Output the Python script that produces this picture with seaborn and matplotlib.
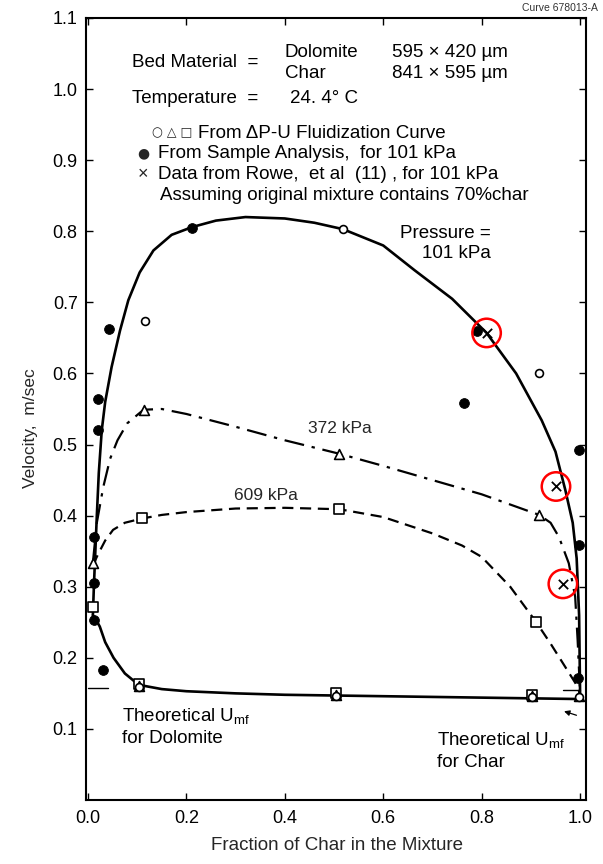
import matplotlib
matplotlib.use("Agg")
import matplotlib.pyplot as plt
import seaborn as sns
import pandas as pd

# ---------------- data ----------------
# 101 kPa curve, upper branch (solid)
up101_x = [0.010, 0.012, 0.015, 0.018, 0.022, 0.028, 0.035, 0.048, 0.065, 0.082, 0.105, 0.133, 0.17,
           0.212, 0.26, 0.32, 0.40, 0.46, 0.518, 0.60, 0.664, 0.74, 0.81, 0.87, 0.922, 0.95, 0.97,
           0.985, 0.993, 0.998, 1.0]
up101_y = [0.26, 0.30, 0.35, 0.40, 0.46, 0.52, 0.56, 0.609, 0.66, 0.703, 0.742, 0.773, 0.795,
           0.806, 0.815, 0.82, 0.818, 0.812, 0.803, 0.78, 0.745, 0.705, 0.657, 0.60, 0.534, 0.49, 0.436,
           0.39, 0.34, 0.26, 0.15]
# 101 kPa curve, lower branch (solid)
lo101_x = [0.010, 0.015, 0.024, 0.035, 0.052, 0.075, 0.103, 0.15, 0.2, 0.3, 0.4, 0.5, 0.7, 0.9, 1.0]
lo101_y = [0.26, 0.255, 0.244, 0.222, 0.2, 0.178, 0.162, 0.156, 0.153, 0.15, 0.148, 0.147, 0.145, 0.143, 0.142]
# 372 kPa curve (dash-dot)
p372_x = [0.010, 0.018, 0.031, 0.045, 0.06, 0.08, 0.113, 0.15, 0.2, 0.3, 0.4, 0.511, 0.6, 0.7, 0.8,
          0.917, 0.94, 0.957, 0.977, 0.99, 0.995, 1.0]
p372_y = [0.334, 0.39, 0.44, 0.48, 0.506, 0.53, 0.549, 0.55, 0.543, 0.525, 0.506, 0.487, 0.47, 0.45, 0.43,
          0.401, 0.39, 0.37, 0.333, 0.286, 0.225, 0.15]
# 609 kPa curve (dashed)
p609_x = [0.010, 0.02, 0.035, 0.051, 0.075, 0.11, 0.15, 0.2, 0.3, 0.4, 0.511, 0.6, 0.7, 0.76, 0.8,
          0.858, 0.91, 0.94, 0.97, 0.99, 1.0]
p609_y = [0.33, 0.345, 0.365, 0.38, 0.39, 0.396, 0.401, 0.405, 0.41, 0.411, 0.409, 0.398, 0.375, 0.358, 0.342,
          0.3, 0.251, 0.22, 0.187, 0.165, 0.15]

# From dP-U fluidization curve
circ_x = [0.116, 0.518, 0.917, 0.103, 0.504, 0.902, 0.998]
circ_y = [0.674, 0.803, 0.601, 0.159, 0.146, 0.145, 0.145]
tri_x = [0.010, 0.113, 0.511, 0.917, 0.103, 0.504, 0.902, 0.998]
tri_y = [0.334, 0.549, 0.487, 0.401, 0.161, 0.148, 0.146, 0.146]
sq_x = [0.011, 0.11, 0.511, 0.91, 0.103, 0.504, 0.902]
sq_y = [0.272, 0.396, 0.409, 0.251, 0.163, 0.150, 0.148]
# From sample analysis (101 kPa)
fill_x = [0.021, 0.021, 0.043, 0.212, 0.79, 0.765, 0.998, 0.998, 0.995, 0.031, 0.013, 0.013, 0.013]
fill_y = [0.52, 0.564, 0.663, 0.805, 0.66, 0.559, 0.493, 0.359, 0.171, 0.183, 0.37, 0.305, 0.253]
# Data from Rowe et al (101 kPa)
rowe_x = [0.81, 0.951, 0.965]
rowe_y = [0.657, 0.441, 0.304]

xticks = [0.0, 0.2, 0.4, 0.6, 0.8, 1.0]
xtick_labels = ["0.0", "0.2", "0.4", "0.6", "0.8", "1.0"]
yticks = [0.1, 0.2, 0.3, 0.4, 0.5, 0.6, 0.7, 0.8, 0.9, 1.0, 1.1]
ytick_labels = ["0.1", "0.2", "0.3", "0.4", "0.5", "0.6", "0.7", "0.8", "0.9", "1.0", "1.1"]

# ---------------- figure ----------------
sns.set_theme(style="ticks")
plt.rcParams["font.family"] = ["Liberation Sans", "DejaVu Sans"]
plt.rcParams["mathtext.fontset"] = "custom"
plt.rcParams["mathtext.rm"] = "Liberation Sans"
plt.rcParams["mathtext.it"] = "Liberation Sans"

fig = plt.figure(figsize=(6.03, 8.64), dpi=100)
ax = fig.add_axes([86 / 603, 1 - 800 / 864, 500 / 603, 782 / 864])
ax.set_facecolor("white")
fig.patch.set_facecolor("white")

def line(xs, ys, **kw):
    df = pd.DataFrame({"x": xs, "y": ys})
    sns.lineplot(data=df, x="x", y="y", sort=False, estimator=None, ax=ax, color="black", **kw)

line(up101_x, up101_y, linewidth=1.9)
line(lo101_x, lo101_y, linewidth=1.9)
line(p372_x, p372_y, linewidth=1.6, dashes=False, linestyle=(0, (9, 3.5, 1.5, 3.5)))
line(p609_x, p609_y, linewidth=1.6, dashes=False, linestyle=(0, (5, 3)))

def pts(xs, ys, **kw):
    df = pd.DataFrame({"x": xs, "y": ys})
    sns.scatterplot(data=df, x="x", y="y", ax=ax, zorder=5, **kw)

pts(sq_x, sq_y, marker="s", s=45, facecolor="white", edgecolor="black", linewidth=1.2)
pts(tri_x, tri_y, marker="^", s=50, facecolor="white", edgecolor="black", linewidth=1.2)
pts(circ_x, circ_y, marker="o", s=32, facecolor="white", edgecolor="black", linewidth=1.2)
pts(fill_x, fill_y, marker="o", s=50, color="black", edgecolor="black")
pts(rowe_x, rowe_y, marker="x", s=45, color="black", linewidth=1.3)
pts(rowe_x, rowe_y, marker="o", s=420, facecolor="none", edgecolor="red", linewidth=1.8)

# theoretical Umf markers
ax.plot([0.0, 0.04], [0.158, 0.158], color="black", lw=1.0)
ax.plot([0.965, 1.0], [0.155, 0.155], color="black", lw=1.0)
ax.annotate("", xy=(0.962, 0.126), xytext=(0.998, 0.118),
            arrowprops=dict(arrowstyle="-|>", color="black", lw=0.9, mutation_scale=8))

ax.set_xlim(-0.004, 1.012)
ax.set_ylim(0, 1.1)
ax.set_xticks(xticks)
ax.set_xticklabels(xtick_labels)
ax.set_yticks(yticks)
ax.set_yticklabels(ytick_labels)
ax.tick_params(axis="both", direction="in", length=5, width=1, labelsize=13, colors="black",
               top=True, right=True)
ax.tick_params(axis="x", pad=7)
ax.tick_params(axis="y", pad=6)
for sp in ax.spines.values():
    sp.set_color("black")
    sp.set_linewidth(1.5)
ax.set_xlabel("")
ax.set_ylabel("")

fig.text(337 / 603, 1 - 845 / 864, "Fraction of Char in the Mixture", ha="center", va="center", fontsize=13.5)
fig.text(31 / 603, 1 - 428 / 864, "Velocity,  m/sec", ha="center", va="center", rotation=90, fontsize=12.5)
fig.text(598 / 603, 1 - 8 / 864, "Curve 678013-A", ha="right", va="center", fontsize=7.5, color="#333333")

fs = 13.5
T = dict(fontsize=fs, va="center", color="black")
ax.text(0.089, 1.037, "Bed Material  =", ha="left", **T)
ax.text(0.400, 1.052, "Dolomite", ha="left", **T)
ax.text(0.400, 1.022, "Char", ha="left", **T)
ax.text(0.618, 1.052, "595 × 420 µm", ha="left", **T)
ax.text(0.618, 1.022, "841 × 595 µm", ha="left", **T)
ax.text(0.089, 0.987, "Temperature  =", ha="left", **T)
ax.text(0.410, 0.987, "24. 4° C", ha="left", **T)
ax.text(0.130, 0.938, "○ △ □", ha="left", family=["DejaVu Sans"], fontsize=9, va="center")
ax.text(0.224, 0.938, "From ΔP-U Fluidization Curve", ha="left", **T)
ax.text(0.112, 0.910, "●", ha="center", family=["DejaVu Sans"], fontsize=10, va="center")
ax.text(0.142, 0.909, "From Sample Analysis,  for 101 kPa", ha="left", **T)
ax.text(0.112, 0.880, "×", ha="center", fontsize=13, va="center")
ax.text(0.142, 0.880, "Data from Rowe,  et al  (11) , for 101 kPa", ha="left", **T)
ax.text(0.146, 0.850, "Assuming original mixture contains 70%char", ha="left", **T)
ax.text(0.726, 0.797, "Pressure =", ha="center", **T)
ax.text(0.748, 0.769, "101 kPa", ha="center", **T)
ax.text(0.447, 0.523, "372 kPa", ha="left", fontsize=12.5, va="center")
ax.text(0.362, 0.429, "609 kPa", ha="center", fontsize=12.5, va="center")
ax.text(0.069, 0.118, "Theoretical U$_{mf}$", ha="left", **T)
ax.text(0.069, 0.087, "for Dolomite", ha="left", **T)
ax.text(0.709, 0.084, "Theoretical U$_{mf}$", ha="left", **T)
ax.text(0.709, 0.053, "for Char", ha="left", **T)

fig.savefig("out.png", dpi=100, facecolor="white")
